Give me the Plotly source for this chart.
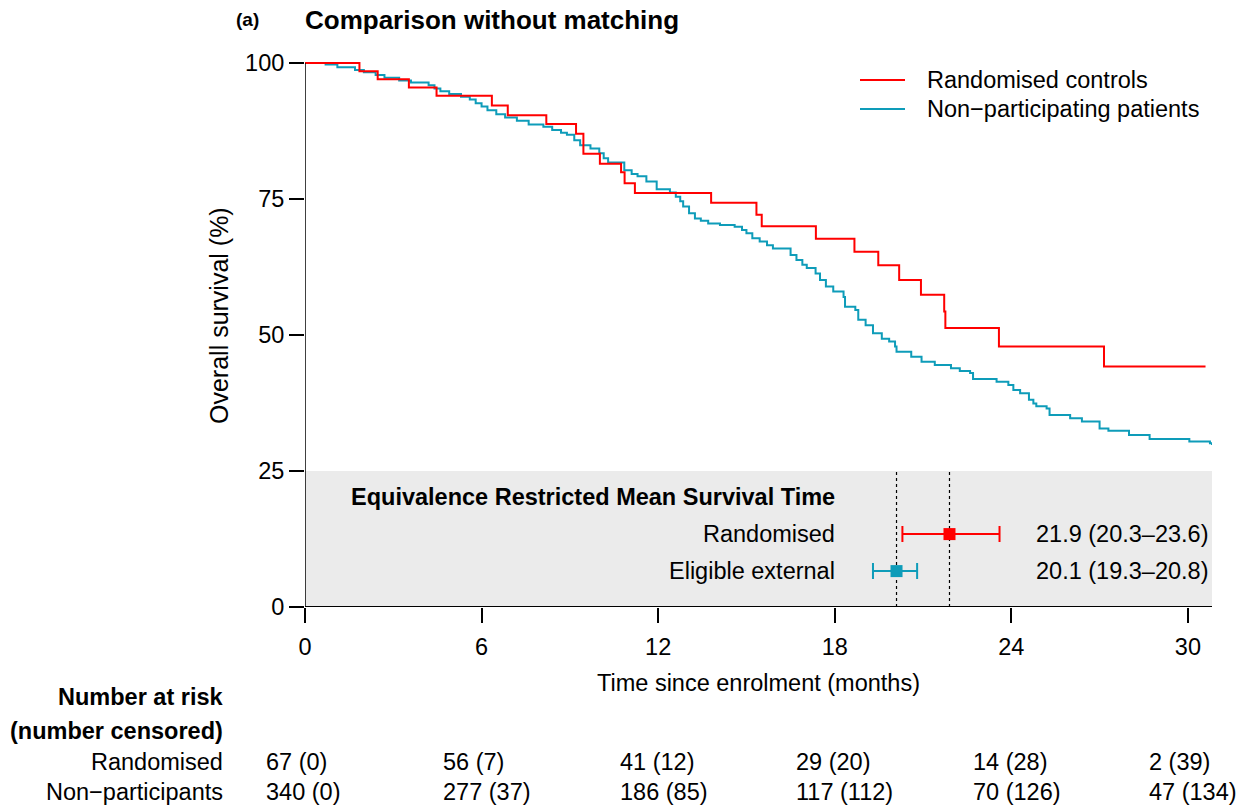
import plotly.graph_objects as go

# ---------------- data ----------------
red_t = [0, 1.85, 2.47, 3.53, 4.47, 6.35, 6.89, 8.2, 9.21, 9.46, 10.02, 10.74, 10.86, 11.21,
         13.8, 15.34, 15.52, 17.36, 18.67, 19.48, 20.19, 20.93, 21.72, 21.76, 23.58, 27.15, 30.6]
red_s = [100, 98.5, 97.0, 95.5, 94.0, 92.2, 90.4, 88.8, 87.0, 83.3, 81.5, 79.9, 77.9, 76.1,
         74.3, 72.1, 70.0, 67.7, 65.3, 62.8, 60.1, 57.4, 54.3, 51.3, 47.9, 44.2, 44.2]

blue_t = [0, 0.7, 1.1, 1.7, 2.0, 2.4, 2.7, 3.2, 3.6, 4.2, 4.4, 4.6, 4.9, 5.3, 5.6, 5.8, 6.0, 6.2,
          6.5, 6.8, 7.2, 7.6, 8.1, 8.4, 8.7, 8.9, 9.15, 9.35, 9.7, 10.0, 10.15, 10.3, 10.85, 11.1,
          11.3, 11.6, 11.95, 12.4, 12.6, 12.75, 12.85, 13.05, 13.25, 13.45, 13.7, 14.1, 14.6, 14.85,
          15.0, 15.2, 15.45, 15.7, 15.9, 16.5, 16.7, 16.9, 17.05, 17.35, 17.5, 17.7, 17.95, 18.3,
          18.35, 18.7, 18.8, 19.05, 19.3, 19.6, 19.85, 20.05, 20.1, 20.6, 20.95, 21.4, 21.95, 22.25,
          22.6, 22.7, 23.5, 23.9, 24.07, 24.3, 24.6, 24.75, 24.85, 25.2, 25.3, 26.0, 26.4, 27.0,
          27.3, 28.0, 28.7, 30.05, 30.75, 30.82]
blue_s = [100, 99.7, 99.2, 98.7, 98.3, 97.8, 97.3, 96.8, 96.4, 95.9, 95.3, 94.8, 94.3, 93.8, 93.3,
          92.6, 92.0, 91.3, 90.6, 90.0, 89.4, 88.7, 88.3, 87.7, 87.2, 86.8, 85.8, 84.9, 84.3, 83.4,
          82.5, 81.7, 80.3, 79.6, 79.2, 78.2, 76.8, 76.2, 75.4, 74.6, 73.6, 72.4, 71.4, 71.0, 70.5,
          70.2, 69.9, 69.3, 68.7, 67.8, 67.2, 66.5, 65.9, 64.7, 63.8, 62.9, 62.3, 61.3, 60.1, 58.9,
          58.0, 57.0, 55.2, 54.6, 52.8, 51.8, 50.3, 49.3, 48.8, 47.9, 46.9, 46.0, 45.1, 44.5, 43.9,
          43.4, 43.0, 41.9, 41.4, 40.8, 39.9, 39.3, 38.1, 37.4, 36.9, 36.5, 35.3, 34.7, 34.1, 32.8,
          32.4, 31.6, 30.9, 30.4, 30.1, 29.8]

rmst_labels = ["Randomised", "Eligible external"]
rmst_est = [21.9, 20.1]
rmst_lo = [20.3, 19.3]
rmst_hi = [23.6, 20.8]
rmst_row_y = [13.4, 6.6]

risk_times = [0, 6, 12, 18, 24, 30]
risk_rand = ["67 (0)", "56 (7)", "41 (12)", "29 (20)", "14 (28)", "2 (39)"]
risk_nonpart = ["340 (0)", "277 (37)", "186 (85)", "117 (112)", "70 (126)", "47 (134)"]

x_ticks = [0, 6, 12, 18, 24, 30]
y_ticks = [0, 25, 50, 75, 100]

RED = "#FF0000"
BLUE = "#0E9CB9"
FONT = "Liberation Sans"
FS = 23.5

# ---------------- layout geometry ----------------
W, H = 1243, 811
L, R, T, B = 305, 31, 60, 204
PW, PH = W - L - R, H - T - B
XMAX = 30.82
YMAX = 100.55


def px(xp):
    return (xp - L) / PW


def py(yp):
    return (H - B - yp) / PH


fig = go.Figure()

# KM curves
fig.add_trace(go.Scatter(x=blue_t, y=blue_s, mode="lines", line=dict(color=BLUE, width=2, shape="hv"),
                         name="Non−participating patients", showlegend=False, hoverinfo="skip"))
fig.add_trace(go.Scatter(x=red_t, y=red_s, mode="lines", line=dict(color=RED, width=2, shape="hv"),
                         name="Randomised controls", showlegend=False, hoverinfo="skip"))

# RMST points with CI
for i, col in enumerate([RED, BLUE]):
    fig.add_trace(go.Scatter(
        x=[rmst_est[i]], y=[rmst_row_y[i]], mode="markers",
        marker=dict(symbol="square", size=12, color=col),
        error_x=dict(type="data", symmetric=False, array=[rmst_hi[i] - rmst_est[i]],
                     arrayminus=[rmst_est[i] - rmst_lo[i]], color=col, thickness=2, width=8),
        showlegend=False, hoverinfo="skip"))

shapes = []
# grey panel
shapes.append(dict(type="rect", xref="x", yref="y", x0=0, x1=XMAX, y0=0, y1=25,
                   fillcolor="#EBEBEB", line=dict(width=0), layer="below"))
# dotted reference lines
for v in rmst_est:
    shapes.append(dict(type="line", xref="x", yref="y", x0=v, x1=v, y0=0, y1=25,
                       line=dict(color="black", width=1.2, dash="dot"), layer="below"))
# axis lines
shapes.append(dict(type="line", xref="x", yref="y", x0=0, x1=XMAX, y0=0, y1=0,
                   line=dict(color="black", width=2)))
shapes.append(dict(type="line", xref="x", yref="y", x0=0, x1=0, y0=0, y1=100,
                   line=dict(color="black", width=1.5)))
# legend lines
for yy, col in [(80, RED), (109, BLUE)]:
    shapes.append(dict(type="line", xref="paper", yref="paper", x0=px(860), x1=px(905),
                       y0=py(yy), y1=py(yy), line=dict(color=col, width=2)))

ann = []


def text(x, y, s, size=FS, xanchor="center", bold=False, xref="paper", yref="paper", **kw):
    if bold:
        s = "<b>" + s + "</b>"
    ann.append(dict(x=x, y=y, xref=xref, yref=yref, text=s, showarrow=False, xanchor=xanchor,
                    yanchor="middle", font=dict(family=FONT, size=size, color="black"), **kw))


# titles
text(px(234), py(20), "(a)", size=19, xanchor="left", bold=True)
text(px(303), py(20), "Comparison without matching", size=26, xanchor="left", bold=True)
# legend texts
text(px(925), py(80), "Randomised controls", xanchor="left")
text(px(925), py(109), "Non−participating patients", xanchor="left")
# axis titles
text(px(219), py(316), "Overall survival (%)", size=25, textangle=-90)
text(px(758), py(683), "Time since enrolment (months)")
# inset
text(px(837), py(497), "Equivalence Restricted Mean Survival Time", xanchor="right", bold=True)
for i in range(2):
    text(px(837), rmst_row_y[i], rmst_labels[i], xanchor="right", yref="y")
    text(px(1210), rmst_row_y[i], f"{rmst_est[i]:.1f} ({rmst_lo[i]:.1f}–{rmst_hi[i]:.1f})",
         xanchor="right", yref="y")
# risk table
text(px(225), py(697), "Number at risk", xanchor="right", bold=True)
text(px(225), py(731), "(number censored)", xanchor="right", bold=True)
text(px(225), py(762), "Randomised", xanchor="right")
text(px(225), py(792), "Non−participants", xanchor="right")
for t, a, b in zip(risk_times, risk_rand, risk_nonpart):
    xp = (t - 1.38) / XMAX  # left edge of each column, from the time axis scale
    text(xp, py(762), a, xanchor="left")
    text(xp, py(792), b, xanchor="left")

fig.update_layout(
    width=W, height=H, margin=dict(l=L, r=R, t=T, b=B),
    plot_bgcolor="white", paper_bgcolor="white",
    font=dict(family=FONT, size=FS, color="black"),
    showlegend=False, shapes=shapes, annotations=ann,
    xaxis=dict(range=[0, XMAX], tickvals=x_ticks, ticks="outside", ticklen=15, tickwidth=1.5,
               tickcolor="black", showgrid=False, zeroline=False, showline=False,
               ticklabelstandoff=4, tickfont=dict(size=FS, family=FONT)),
    yaxis=dict(range=[0, YMAX], tickvals=y_ticks, ticks="outside", ticklen=15, tickwidth=1.5,
               tickcolor="black", showgrid=False, zeroline=False, showline=False,
               tickfont=dict(size=FS, family=FONT)),
)

fig.write_html("out.html")
